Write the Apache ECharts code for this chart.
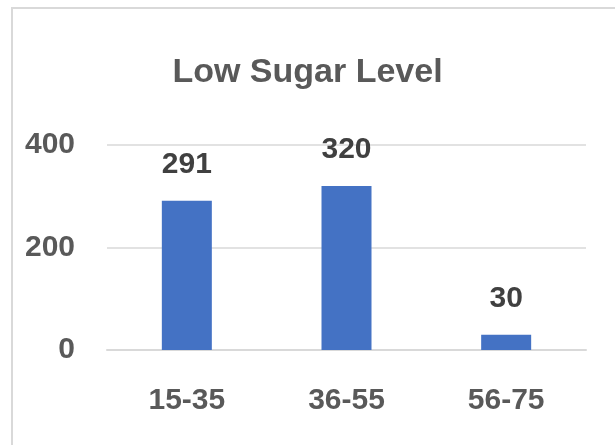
<!DOCTYPE html>
<html>
<head>
<meta charset="utf-8">
<style>
html,body{margin:0;padding:0;background:#fff;}
#chart{width:615px;height:445px;}
</style>
<script src="https://cdn.jsdelivr.net/npm/echarts@6/dist/echarts.min.js"></script>
</head>
<body>
<div id="chart"></div>
<script>
const titleText = 'Low Sugar Level';
const categories = ['15-35', '36-55', '56-75'];
const values = [291, 320, 30];
const yTicks = [0, 200, 400];

const FONT = '"Liberation Sans", Arial, sans-serif';
const chart = echarts.init(document.getElementById('chart'), null, {renderer: 'canvas'});
chart.setOption({
  backgroundColor: '#ffffff',
  animation: false,
  graphic: [{
    type: 'rect',
    shape: {x: 12, y: 8, width: 640, height: 480},
    style: {fill: 'none', stroke: '#D9D9D9', lineWidth: 2},
    silent: true
  }],
  title: {
    text: titleText,
    left: 'center',
    top: 51,
    textStyle: {fontFamily: FONT, fontWeight: 'bold', fontSize: 34, color: '#595959'}
  },
  grid: {left: 107, right: 29, top: 145, bottom: 95, containLabel: false},
  xAxis: {
    type: 'category',
    data: categories,
    axisLine: {show: true, lineStyle: {color: '#D9D9D9', width: 2}},
    axisTick: {show: false},
    axisLabel: {fontFamily: FONT, fontWeight: 'bold', fontSize: 30, color: '#595959', margin: 36}
  },
  yAxis: {
    type: 'value',
    min: yTicks[0],
    max: yTicks[yTicks.length - 1],
    interval: yTicks[1] - yTicks[0],
    axisLine: {show: false},
    axisTick: {show: false},
    splitLine: {lineStyle: {color: '#D9D9D9', width: 1.5}},
    axisLabel: {fontFamily: FONT, fontWeight: 'bold', fontSize: 30, color: '#595959', margin: 32, padding: [6, 0, 0, 0]}
  },
  series: [{
    type: 'bar',
    data: values,
    barWidth: 50,
    itemStyle: {color: '#4472C4'},
    label: {
      show: true,
      position: 'top',
      distance: 21,
      fontFamily: FONT,
      fontWeight: 'bold',
      fontSize: 30,
      color: '#404040'
    }
  }]
});
</script>
</body>
</html>
